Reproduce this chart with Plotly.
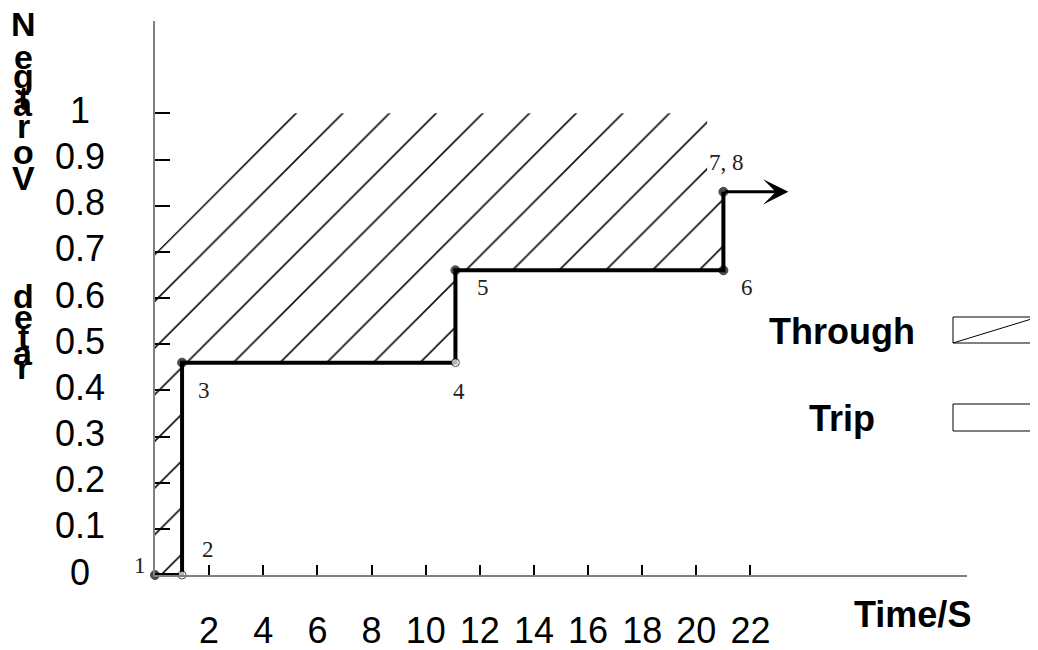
import plotly.graph_objects as go

# step characteristic (time in s, negative-order V / rated)
step_x = [0, 1, 1, 11.1, 11.1, 21, 21]
step_y = [0, 0, 0.46, 0.46, 0.66, 0.66, 0.83]

# numbered points on the step
pt_labels = ["1", "2", "3", "4", "5", "6", "7, 8"]
pt_x = [0, 1, 1, 11.1, 11.1, 21, 21]
pt_y = [0, 0, 0.46, 0.46, 0.66, 0.66, 0.83]
pt_open = [False, True, False, True, False, False, False]

# hatched "through" region (top-left corner is cut off diagonally)
hatch_x = [0, 1, 1, 11.1, 11.1, 21, 21, 20.4, 20.4, 5.13, 0, 0]
hatch_y = [0, 0, 0.46, 0.46, 0.66, 0.66, 0.83, 0.83, 1, 1, 0.697, 0]

arrow_end = 23.4

x_ticks = [2, 4, 6, 8, 10, 12, 14, 16, 18, 20, 22]
y_ticks = [0, 0.1, 0.2, 0.3, 0.4, 0.5, 0.6, 0.7, 0.8, 0.9, 1]
y_ticktext = ["0", "0.1", "0.2", "0.3", "0.4", "0.5", "0.6", "0.7", "0.8", "0.9", "1"]

# y title, drawn as stacked (partly overlapping) letters
title_top = ["N", "e", "g", "t", "a", "r", "o", "V"]
title_bot = ["d", "e", "t", "a", "r"]

legend_items = ["Through", "Trip"]

SANS = "Liberation Sans, Arial, sans-serif"
SERIF = "Liberation Serif, Times New Roman, serif"

# page has an 8px body margin, so the figure is 8px smaller than the window
OFF = 8
W, H = 1030, 642
ML, MR, MT, MB = 147, 71, 13, 75
PW, PH = W - ML - MR, H - MT - MB


def px_x(p):
    # page pixel -> paper x
    return (p - OFF - ML) / PW


def px_y(p):
    # page pixel -> paper y
    return (H - MB - (p - OFF)) / PH


fig = go.Figure()

fig.add_trace(go.Scatter(
    x=hatch_x, y=hatch_y, mode="lines", fill="toself",
    line=dict(width=0), fillcolor="rgba(255,255,255,0)",
    fillpattern=dict(shape="/", size=33, solidity=0.05,
                     fgcolor="#111", fgopacity=1, bgcolor="rgba(255,255,255,0)"),
    hoverinfo="skip", showlegend=False))

fig.add_trace(go.Scatter(
    x=step_x, y=step_y, mode="lines", cliponaxis=False,
    line=dict(color="black", width=4),
    hoverinfo="skip", showlegend=False))

fig.add_trace(go.Scatter(
    x=pt_x, y=pt_y, mode="markers", cliponaxis=False,
    marker=dict(size=[8 if o else 9 for o in pt_open],
                color=["white" if o else "black" for o in pt_open],
                line=dict(color="black", width=1)),
    hoverinfo="skip", showlegend=False))

# arrow after point 7,8
fig.add_annotation(x=arrow_end, y=step_y[-1], ax=step_x[-1], ay=step_y[-1],
                   xref="x", yref="y", axref="x", ayref="y", text="",
                   showarrow=True, arrowhead=3, arrowsize=1.4, arrowwidth=3,
                   arrowcolor="black", standoff=0, startstandoff=0)

# point labels (pixel offsets)
offs = [(-15, 10), (26, 26), (22, -28), (4, -29), (28, -17), (24, -17), (3, 29)]
for lab, x, y, (dx, dy) in zip(pt_labels, pt_x, pt_y, offs):
    fig.add_annotation(x=x, y=y, xref="x", yref="y", text=lab, showarrow=False,
                       xshift=dx, yshift=dy, xanchor="center", yanchor="middle",
                       font=dict(family=SERIF, size=23, color="#222"))

# y tick labels, centred left of the axis
for v, t in zip(y_ticks, y_ticktext):
    fig.add_annotation(x=0, y=v, xref="paper", yref="y", text=t, showarrow=False,
                       xshift=-75, yshift=3, xanchor="center", yanchor="middle",
                       font=dict(family=SANS, size=36, color="black"))

# stacked y title
top_pos = [24, 57, 76, 98, 104, 126, 152, 178]
bot_pos = [296, 317, 337, 353, 367]
for ch, py in zip(title_top + title_bot, top_pos + bot_pos):
    fig.add_annotation(x=px_x(23), y=px_y(py), xref="paper", yref="paper", text=ch,
                       showarrow=False, xanchor="center", yanchor="middle",
                       font=dict(family=SANS, size=34, color="black", weight="bold"))

# x title
fig.add_annotation(x=px_x(912), y=px_y(614), xref="paper", yref="paper",
                   text="<b>Time/S</b>", showarrow=False, xanchor="center", yanchor="middle",
                   font=dict(family=SANS, size=36, color="black"))

# legend drawn by hand
leg_text_y = [331, 418]
leg_box = [(317, 343), (404, 431)]
for name, ty, (b0, b1) in zip(legend_items, leg_text_y, leg_box):
    fig.add_annotation(x=px_x(842), y=px_y(ty), xref="paper", yref="paper",
                       text="<b>" + name + "</b>", showarrow=False,
                       xanchor="center", yanchor="middle",
                       font=dict(family=SANS, size=36, color="black"))
    fig.add_shape(type="rect", xref="paper", yref="paper",
                  x0=px_x(953), x1=px_x(1120), y0=px_y(b1), y1=px_y(b0),
                  line=dict(color="black", width=1), fillcolor="rgba(0,0,0,0)")
fig.add_shape(type="line", xref="paper", yref="paper",
              x0=px_x(953), y0=px_y(343), x1=px_x(1038), y1=px_y(317),
              line=dict(color="black", width=1))

fig.update_layout(
    width=W, height=H,
    margin=dict(l=ML, r=MR, t=MT, b=MB, autoexpand=False),
    paper_bgcolor="white", plot_bgcolor="white",
    showlegend=False,
    xaxis=dict(range=[0, 30], showgrid=False, zeroline=False, automargin=False,
               showline=True, linecolor="#808080", linewidth=2,
               ticks="inside", ticklen=10, tickwidth=1.5, tickcolor="black",
               tickvals=x_ticks, ticktext=[str(v) for v in x_ticks], tickangle=0,
               tickfont=dict(family=SANS, size=36, color="black"),
               ticklabelstandoff=23),
    yaxis=dict(range=[0, 1.2], showgrid=False, zeroline=False, automargin=False,
               showline=True, linecolor="#808080", linewidth=2,
               ticks="inside", ticklen=15, tickwidth=1.5, tickcolor="black",
               tickvals=y_ticks[1:], showticklabels=False),
)

fig.write_html("out.html")
